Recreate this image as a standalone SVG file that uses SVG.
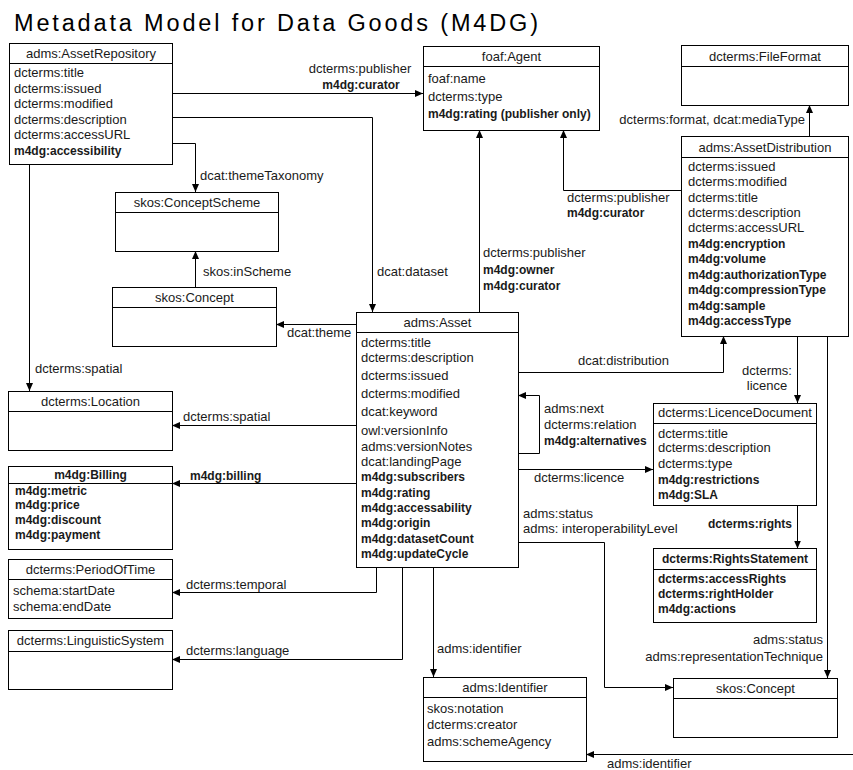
<svg xmlns="http://www.w3.org/2000/svg" width="853" height="770" viewBox="0 0 853 770">
<style>
.box{fill:#fff;stroke:#000;stroke-width:1}
.sep{stroke:#000;stroke-width:1}
text{font-family:"Liberation Sans",Arial,sans-serif;font-size:13px;fill:#1a1a1a}
.b{font-weight:bold;font-size:12px}
.h{text-anchor:middle}
.e{text-anchor:end}
.conn{fill:none;stroke:#000;stroke-width:1}
.title{font-size:23.5px;fill:#000}
</style>
<defs>
<marker id="arr" markerUnits="userSpaceOnUse" markerWidth="8" markerHeight="8" refX="8" refY="4" orient="auto">
<path d="M0,0.5 L8,4 L0,7.5 z" fill="#000"/>
</marker>
</defs>
<rect width="853" height="770" fill="#fff"/>
<text class="title" x="14" y="31" textLength="524" lengthAdjust="spacing">Metadata Model for Data Goods (M4DG)</text>

<g id="connectors">
<path class="conn" d="M172,93.5 H423" marker-end="url(#arr)"/>
<path class="conn" d="M172,117.5 H372.5 V312" marker-end="url(#arr)"/>
<path class="conn" d="M172,143.5 H195.5 V192" marker-end="url(#arr)"/>
<path class="conn" d="M29.5,164 V391" marker-end="url(#arr)"/>
<path class="conn" d="M195.5,287 V251" marker-end="url(#arr)"/>
<path class="conn" d="M356,324.5 H276" marker-end="url(#arr)"/>
<path class="conn" d="M479.5,312 V130" marker-end="url(#arr)"/>
<path class="conn" d="M681,190.5 H563.5 V130" marker-end="url(#arr)"/>
<path class="conn" d="M809.5,136 V105" marker-end="url(#arr)"/>
<path class="conn" d="M518,372.5 H723.5 V336" marker-end="url(#arr)"/>
<path class="conn" d="M518,453.5 H539.5 V395.5 H518" marker-end="url(#arr)"/>
<path class="conn" d="M518,469.5 H653" marker-end="url(#arr)"/>
<path class="conn" d="M797.5,336 V403" marker-end="url(#arr)"/>
<path class="conn" d="M797.5,505 V548.5" marker-end="url(#arr)"/>
<path class="conn" d="M827.5,336 V678" marker-end="url(#arr)"/>
<path class="conn" d="M518,542.5 H604.5 V687.5 H673" marker-end="url(#arr)"/>
<path class="conn" d="M356,425.5 H172" marker-end="url(#arr)"/>
<path class="conn" d="M356,483.5 H172" marker-end="url(#arr)"/>
<path class="conn" d="M376.5,567 V592.5 H172" marker-end="url(#arr)"/>
<path class="conn" d="M402.5,567 V659.5 H172" marker-end="url(#arr)"/>
<path class="conn" d="M433.5,567 V677" marker-end="url(#arr)"/>
<path class="conn" d="M853,754.5 H586" marker-end="url(#arr)"/>

<text class="h" x="360" y="72.5">dcterms:publisher</text>
<text class="h b" x="361" y="89">m4dg:curator</text>
<text x="377" y="275.5">dcat:dataset</text>
<text x="200" y="180">dcat:themeTaxonomy</text>
<text x="35" y="373">dcterms:spatial</text>
<text x="203" y="276">skos:inScheme</text>
<text x="287" y="337">dcat:theme</text>
<text x="483" y="257">dcterms:publisher</text>
<text class="b" x="483" y="274">m4dg:owner</text>
<text class="b" x="483" y="290">m4dg:curator</text>
<text x="567" y="202">dcterms:publisher</text>
<text class="b" x="567" y="217">m4dg:curator</text>
<text class="e" x="805" y="123.5">dcterms:format, dcat:mediaType</text>
<text x="578" y="365">dcat:distribution</text>
<text x="544" y="413">adms:next</text>
<text x="544" y="429">dcterms:relation</text>
<text class="b" x="544" y="445">m4dg:alternatives</text>
<text x="534" y="482">dcterms:licence</text>
<text class="h" x="767" y="375">dcterms:</text>
<text class="h" x="767" y="390">licence</text>
<text class="e b" x="792" y="527.5">dcterms:rights</text>
<text class="e" x="823" y="644">adms:status</text>
<text class="e" x="823" y="660.5">adms:representationTechnique</text>
<text x="523" y="517.5">adms:status</text>
<text x="523" y="533">adms: interoperabilityLevel</text>
<text x="183" y="421">dcterms:spatial</text>
<text class="b" x="190" y="479.5">m4dg:billing</text>
<text x="186" y="588.5">dcterms:temporal</text>
<text x="186" y="655">dcterms:language</text>
<text x="437" y="653">adms:identifier</text>
<text x="607" y="768">adms:identifier</text>
</g>

<g id="AssetRepository">
<rect class="box" x="9.5" y="43.5" width="163" height="121"/>
<line class="sep" x1="9.5" y1="63.5" x2="172.5" y2="63.5"/>
<text class="h" x="91" y="58">adms:AssetRepository</text>
<text x="14" y="77">dcterms:title</text>
<text x="14" y="92.5">dcterms:issued</text>
<text x="14" y="108">dcterms:modified</text>
<text x="14" y="123.5">dcterms:description</text>
<text x="14" y="139">dcterms:accessURL</text>
<text class="b" x="14" y="154.5">m4dg:accessibility</text>
</g>

<g id="Agent">
<rect class="box" x="423.5" y="46.5" width="176" height="84"/>
<line class="sep" x1="423.5" y1="66.5" x2="599.5" y2="66.5"/>
<text class="h" x="511.5" y="61">foaf:Agent</text>
<text x="428" y="83">foaf:name</text>
<text x="428" y="100.5">dcterms:type</text>
<text class="b" x="428" y="118">m4dg:rating (publisher only)</text>
</g>

<g id="FileFormat">
<rect class="box" x="681.5" y="45.5" width="167" height="60"/>
<line class="sep" x1="681.5" y1="66.5" x2="848.5" y2="66.5"/>
<text class="h" x="765" y="60.5">dcterms:FileFormat</text>
</g>

<g id="AssetDistribution">
<rect class="box" x="681.5" y="136.5" width="167" height="200"/>
<line class="sep" x1="681.5" y1="157.5" x2="848.5" y2="157.5"/>
<text class="h" x="765" y="151.5">adms:AssetDistribution</text>
<text x="688" y="171">dcterms:issued</text>
<text x="688" y="186">dcterms:modified</text>
<text x="688" y="201.5">dcterms:title</text>
<text x="688" y="216.5">dcterms:description</text>
<text x="688" y="232">dcterms:accessURL</text>
<text class="b" x="688" y="247.5">m4dg:encryption</text>
<text class="b" x="688" y="263">m4dg:volume</text>
<text class="b" x="688" y="278.5">m4dg:authorizationType</text>
<text class="b" x="688" y="294">m4dg:compressionType</text>
<text class="b" x="688" y="309.5">m4dg:sample</text>
<text class="b" x="688" y="325">m4dg:accessType</text>
</g>

<g id="ConceptScheme">
<rect class="box" x="115.5" y="192.5" width="163" height="59"/>
<line class="sep" x1="115.5" y1="212.5" x2="278.5" y2="212.5"/>
<text class="h" x="197" y="206.5">skos:ConceptScheme</text>
</g>

<g id="Concept1">
<rect class="box" x="112.5" y="287.5" width="164" height="59"/>
<line class="sep" x1="112.5" y1="307.5" x2="276.5" y2="307.5"/>
<text class="h" x="194.5" y="301.5">skos:Concept</text>
</g>

<g id="Asset">
<rect class="box" x="356.5" y="312.5" width="162" height="255"/>
<line class="sep" x1="356.5" y1="332.5" x2="518.5" y2="332.5"/>
<text class="h" x="437.5" y="327">adms:Asset</text>
<text x="361" y="346.5">dcterms:title</text>
<text x="361" y="362">dcterms:description</text>
<text x="361" y="380">dcterms:issued</text>
<text x="361" y="398">dcterms:modified</text>
<text x="361" y="416">dcat:keyword</text>
<text x="361" y="435">owl:versionInfo</text>
<text x="361" y="450.5">adms:versionNotes</text>
<text x="361" y="466">dcat:landingPage</text>
<text class="b" x="361" y="481">m4dg:subscribers</text>
<text class="b" x="361" y="496.5">m4dg:rating</text>
<text class="b" x="361" y="512">m4dg:accessability</text>
<text class="b" x="361" y="527">m4dg:origin</text>
<text class="b" x="361" y="542.5">m4dg:datasetCount</text>
<text class="b" x="361" y="557.5">m4dg:updateCycle</text>
</g>

<g id="Location">
<rect class="box" x="8.5" y="391.5" width="164" height="59"/>
<line class="sep" x1="8.5" y1="411.5" x2="172.5" y2="411.5"/>
<text class="h" x="90.5" y="405.5">dcterms:Location</text>
</g>

<g id="Billing">
<rect class="box" x="8.5" y="466.5" width="164" height="83"/>
<line class="sep" x1="8.5" y1="483.5" x2="172.5" y2="483.5"/>
<text class="h b" x="90.5" y="478.5">m4dg:Billing</text>
<text class="b" x="15" y="495">m4dg:metric</text>
<text class="b" x="15" y="509">m4dg:price</text>
<text class="b" x="15" y="523.5">m4dg:discount</text>
<text class="b" x="15" y="538.5">m4dg:payment</text>
</g>

<g id="PeriodOfTime">
<rect class="box" x="8.5" y="559.5" width="164" height="59"/>
<line class="sep" x1="8.5" y1="579.5" x2="172.5" y2="579.5"/>
<text class="h" x="90.5" y="573.5">dcterms:PeriodOfTime</text>
<text x="13" y="595">schema:startDate</text>
<text x="13" y="610.5">schema:endDate</text>
</g>

<g id="LinguisticSystem">
<rect class="box" x="8.5" y="630.5" width="164" height="59"/>
<line class="sep" x1="8.5" y1="651.5" x2="172.5" y2="651.5"/>
<text class="h" x="90.5" y="645">dcterms:LinguisticSystem</text>
</g>

<g id="LicenceDocument">
<rect class="box" x="653.5" y="403.5" width="163" height="102"/>
<line class="sep" x1="653.5" y1="423.5" x2="816.5" y2="423.5"/>
<text class="h" x="735" y="417">dcterms:LicenceDocument</text>
<text x="658" y="437.5">dcterms:title</text>
<text x="658" y="452">dcterms:description</text>
<text x="658" y="468">dcterms:type</text>
<text class="b" x="658" y="484">m4dg:restrictions</text>
<text class="b" x="658" y="499">m4dg:SLA</text>
</g>

<g id="RightsStatement">
<rect class="box" x="653.5" y="548.5" width="163" height="74"/>
<line class="sep" x1="653.5" y1="569.5" x2="816.5" y2="569.5"/>
<text class="h b" x="735" y="563">dcterms:RightsStatement</text>
<text class="b" x="658" y="582.5">dcterms:accessRights</text>
<text class="b" x="658" y="598">dcterms:rightHolder</text>
<text class="b" x="658" y="612.5">m4dg:actions</text>
</g>

<g id="Concept2">
<rect class="box" x="673.5" y="678.5" width="164" height="59"/>
<line class="sep" x1="673.5" y1="698.5" x2="837.5" y2="698.5"/>
<text class="h" x="755.5" y="692.5">skos:Concept</text>
</g>

<g id="Identifier">
<rect class="box" x="423.5" y="677.5" width="163" height="84"/>
<line class="sep" x1="423.5" y1="697.5" x2="586.5" y2="697.5"/>
<text class="h" x="505" y="692">adms:Identifier</text>
<text x="427" y="713">skos:notation</text>
<text x="427" y="729">dcterms:creator</text>
<text x="427" y="745.5">adms:schemeAgency</text>
</g>
</svg>
